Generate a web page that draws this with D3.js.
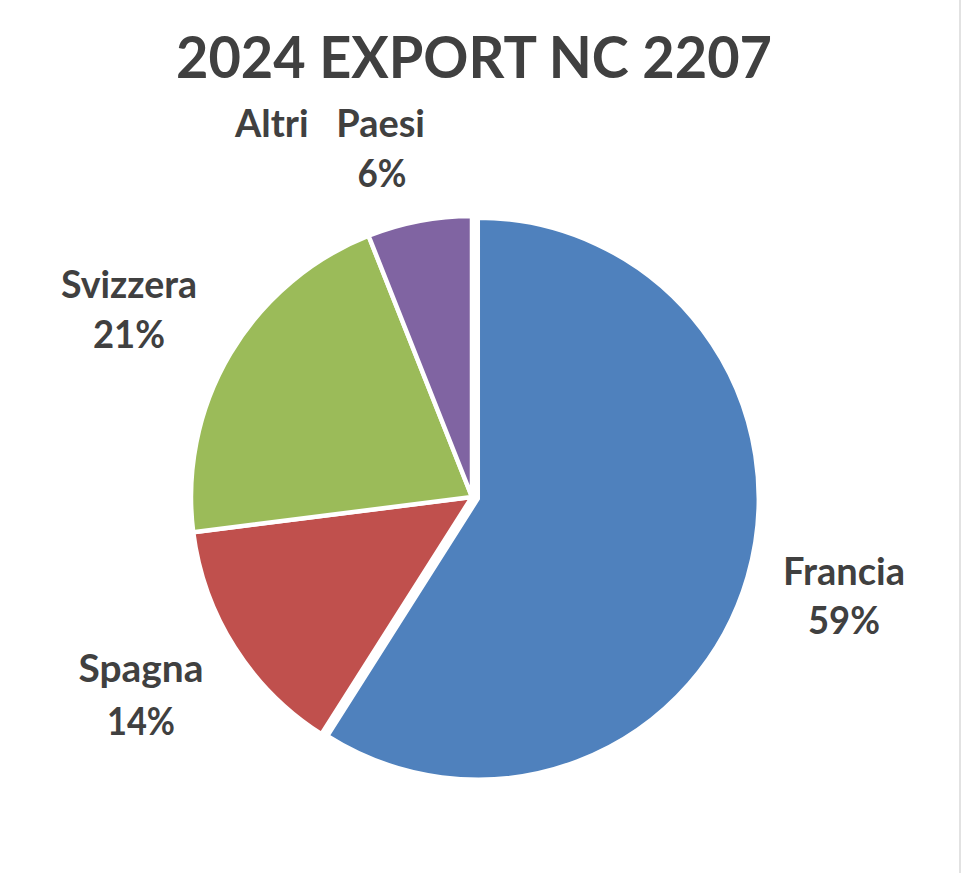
<!DOCTYPE html>
<html><head><meta charset="utf-8">
<script src="https://cdn.jsdelivr.net/npm/d3@7"></script>
<style>html,body{margin:0;padding:0;background:#fff;}svg{display:block;}</style>
</head><body>
<script>
const categories = ["Francia", "Spagna", "Svizzera", "Altri Paesi"];
const values = [59, 14, 21, 6];
const colors = ["#4F81BD", "#C0504D", "#9BBB59", "#8064A2"];
const title = "2024 EXPORT NC 2207";

const W = 961, H = 873;
const svg = d3.select("body").append("svg").attr("width", W).attr("height", H);
svg.append("rect").attr("width", W).attr("height", H).attr("fill", "#fff");
svg.append("line").attr("x1", 960).attr("x2", 960).attr("y1", 0).attr("y2", H)
  .attr("stroke", "#d9d9d9").attr("stroke-width", 1.5);

const font = "Lato, 'Open Sans', sans-serif";
const textColor = "#404040";

svg.append("text").attr("x", 474).attr("y", 78).attr("text-anchor", "middle")
  .attr("font-family", font).attr("font-weight", 700).attr("font-size", 57)
  .attr("fill", textColor).attr("textLength", 596).attr("lengthAdjust", "spacingAndGlyphs")
  .text(title);

const cx = 472, cy = 497, r = 281;
const pie = d3.pie().sort(null).value(d => d)(values);
const arc = d3.arc().innerRadius(0).outerRadius(r);
const explode = [6, 0, 0, 0];

const g = svg.append("g").attr("transform", `translate(${cx},${cy})`);
g.selectAll("path").data(pie).join("path")
  .attr("d", arc)
  .attr("fill", (d, i) => colors[i])
  .attr("stroke", "#fff").attr("stroke-width", 4.5).attr("stroke-linejoin", "miter")
  .attr("transform", (d, i) => {
    const a = (d.startAngle + d.endAngle) / 2;
    return `translate(${explode[i] * Math.sin(a)},${-explode[i] * Math.cos(a)})`;
  });

const labelPos = [
  {x1: 844, y1: 585, x2: 844, y2: 634, w1: 122, w2: 72},
  {x1: 141, y1: 682, x2: 141, y2: 735, w1: 125, w2: 68},
  {x1: 129, y1: 298, x2: 129, y2: 348, w1: 136, w2: 72},
  {x1: 330, y1: 137, x2: 382, y2: 187, w1: 190, w2: 49}
];
const total = d3.sum(values);
const lbl = svg.append("g").attr("font-family", font).attr("font-weight", 700)
  .attr("font-size", 38).attr("fill", textColor).attr("text-anchor", "middle");
categories.forEach((c, i) => {
  const p = labelPos[i];
  const name = c === "Altri Paesi" ? "Altri\u00A0\u00A0\u00A0Paesi" : c;
  lbl.append("text").attr("x", p.x1).attr("y", p.y1)
    .attr("textLength", p.w1).attr("lengthAdjust", "spacingAndGlyphs").text(name);
  lbl.append("text").attr("x", p.x2).attr("y", p.y2)
    .attr("textLength", p.w2).attr("lengthAdjust", "spacingAndGlyphs")
    .text(Math.round(values[i] / total * 100) + "%");
});
</script>
</body></html>
